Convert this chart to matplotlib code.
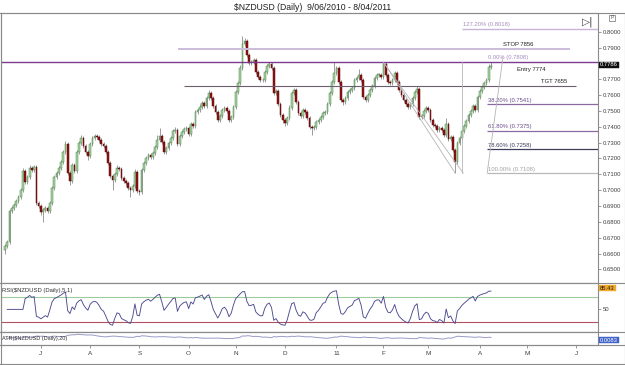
import numpy as np
import pandas as pd
import matplotlib
matplotlib.use('Agg')
import matplotlib.pyplot as plt
from matplotlib.patches import Rectangle
from matplotlib.lines import Line2D

plt.rcParams['font.family'] = ['Liberation Sans', 'DejaVu Sans']

# ---------------- data ----------------
title = "$NZDUSD (Daily)  9/06/2010 - 8/04/2011"
start_date = "2010-06-09"
axis_end_date = "2011-06-30"
first_open = 0.6622

closes = [
    0.6648, 0.6673, 0.6868, 0.6887, 0.6906, 0.6932, 0.6957, 0.7001, 0.7121, 0.7051,
    0.7083, 0.7140, 0.7127, 0.7146, 0.6919, 0.6900, 0.6862, 0.6875, 0.6887, 0.6868,
    0.6919, 0.7014, 0.7083, 0.7108, 0.7140, 0.7178, 0.7241, 0.7291, 0.7108, 0.7058,
    0.7159, 0.7121, 0.7241, 0.7298, 0.7329, 0.7279, 0.7241, 0.7215, 0.7291, 0.7329,
    0.7342, 0.7335, 0.7316, 0.7291, 0.7279, 0.7241, 0.7171, 0.7089, 0.7064, 0.7102,
    0.7140, 0.7133, 0.7077, 0.7058, 0.7045, 0.7014, 0.7001, 0.7026, 0.7115, 0.6995,
    0.6988, 0.7127, 0.7171, 0.7203, 0.7222, 0.7209, 0.7234, 0.7272, 0.7316, 0.7342,
    0.7304, 0.7241, 0.7266, 0.7298, 0.7329, 0.7373, 0.7380, 0.7291, 0.7342, 0.7367,
    0.7386, 0.7392, 0.7354, 0.7417, 0.7405, 0.7493, 0.7506, 0.7525, 0.7550, 0.7531,
    0.7581, 0.7613, 0.7581, 0.7531, 0.7493, 0.7443, 0.7468, 0.7506, 0.7518, 0.7499,
    0.7443, 0.7462, 0.7525, 0.7619, 0.7676, 0.7771, 0.7922, 0.7941, 0.7853, 0.7802,
    0.7809, 0.7821, 0.7746, 0.7714, 0.7695, 0.7695, 0.7746, 0.7783, 0.7796, 0.7771,
    0.7613, 0.7626, 0.7544, 0.7474, 0.7443, 0.7424, 0.7455, 0.7518, 0.7613, 0.7632,
    0.7556, 0.7487, 0.7468, 0.7506, 0.7493, 0.7455, 0.7398, 0.7392, 0.7398, 0.7430,
    0.7443, 0.7462, 0.7487, 0.7493, 0.7544, 0.7613, 0.7682, 0.7739, 0.7771, 0.7682,
    0.7569, 0.7556, 0.7581, 0.7619, 0.7632, 0.7645, 0.7695, 0.7708, 0.7727, 0.7695,
    0.7588, 0.7569, 0.7600, 0.7632, 0.7657, 0.7708, 0.7727, 0.7727, 0.7714, 0.7796,
    0.7727, 0.7682, 0.7676, 0.7695, 0.7739, 0.7682, 0.7632, 0.7600, 0.7569, 0.7544,
    0.7525, 0.7544, 0.7581, 0.7619, 0.7638, 0.7462, 0.7468, 0.7499, 0.7518, 0.7506,
    0.7443, 0.7411, 0.7405, 0.7380, 0.7392, 0.7380, 0.7348, 0.7417, 0.7323, 0.7335,
    0.7253, 0.7178, 0.7298, 0.7329, 0.7373, 0.7405, 0.7436, 0.7474, 0.7499, 0.7531,
    0.7506, 0.7588, 0.7626, 0.7651, 0.7676, 0.7695, 0.7777, 0.7786,
]

wick_up_pips = [
    10, 12, 15, 10, 12, 14, 12, 15, 18, 12, 10, 20, 15, 12, 10, 12, 10, 14, 12, 15,
    12, 15, 10, 14, 12, 15, 12, 20, 10, 12, 15, 12, 14, 12, 18, 10, 12, 12, 15, 14,
    12, 15, 10, 12, 14, 10, 12, 10, 12, 14, 18, 12, 10, 12, 10, 14, 12, 15, 20, 10,
    12, 14, 12, 15, 10, 12, 14, 15, 30, 50, 12, 10, 14, 12, 15, 12, 18, 10, 12, 14,
    15, 12, 10, 14, 12, 15, 12, 18, 15, 12, 14, 20, 10, 12, 10, 12, 14, 10, 12, 15,
    10, 12, 14, 12, 15, 18, 50, 20, 12, 14, 12, 15, 10, 12, 14, 12, 15, 12, 14, 10,
    15, 12, 10, 12, 14, 12, 15, 20, 12, 14, 10, 12, 14, 12, 15, 10, 12, 14, 12, 15,
    12, 14, 12, 15, 12, 14, 12, 70, 15, 10, 12, 14, 12, 15, 12, 14, 12, 15, 35, 10,
    12, 14, 12, 15, 12, 14, 12, 15, 12, 12, 10, 14, 12, 15, 12, 10, 12, 14, 12, 15,
    12, 14, 12, 15, 19, 10, 12, 14, 12, 15, 10, 12, 14, 12, 15, 12, 14, 38, 10, 12,
    12, 14, 15, 12, 14, 12, 15, 12, 14, 12, 15, 12, 14, 12, 15, 12, 20, 22,
]

wick_dn_pips = [
    25, 12, 10, 14, 12, 10, 15, 12, 10, 14, 12, 15, 10, 12, 12, 14, 20, 60, 12, 15,
    10, 12, 14, 10, 12, 10, 14, 12, 12, 26, 10, 14, 12, 10, 12, 14, 12, 25, 10, 12,
    14, 10, 12, 15, 12, 14, 12, 15, 63, 10, 12, 14, 12, 15, 20, 12, 44, 10, 12, 15,
    20, 10, 12, 14, 10, 12, 14, 10, 12, 14, 10, 15, 12, 10, 12, 14, 10, 12, 14, 10,
    12, 14, 12, 10, 15, 12, 10, 14, 12, 10, 12, 14, 10, 12, 14, 15, 12, 10, 14, 12,
    15, 12, 10, 14, 12, 10, 12, 14, 12, 15, 10, 12, 14, 12, 15, 10, 12, 14, 12, 10,
    12, 14, 12, 15, 20, 18, 12, 10, 12, 14, 12, 15, 12, 14, 10, 12, 15, 44, 12, 10,
    12, 14, 10, 12, 14, 10, 12, 10, 12, 14, 15, 20, 12, 10, 14, 12, 10, 12, 14, 12,
    15, 12, 10, 14, 12, 10, 12, 14, 12, 10, 12, 14, 15, 12, 10, 14, 12, 15, 12, 14,
    15, 12, 10, 14, 12, 15, 12, 10, 14, 12, 15, 14, 12, 15, 12, 14, 15, 12, 14, 12,
    15, 70, 12, 14, 10, 12, 14, 10, 12, 14, 10, 12, 14, 12, 10, 12, 14, 12,
]

price_ticks = [0.65, 0.66, 0.67, 0.68, 0.69, 0.70, 0.71, 0.72, 0.73, 0.74,
               0.75, 0.76, 0.77, 0.78, 0.79, 0.80]

fib_labels = ["127.20% (0.8018)", "0.00% (0.7808)", "38.20% (0.7541)",
              "61.80% (0.7375)", "78.60% (0.7258)", "100.00% (0.7108)"]
fib_values = [0.8018, 0.7808, 0.7541, 0.7375, 0.7258, 0.7108]

stop_label, stop_value = "STOP 7856", 0.7889
tgt_label, tgt_value = "TGT 7655", 0.7657
entry_label, entry_value = "Entry 7774", 0.7760
last_price = 0.7786
last_price_label = "0.7786"
rsi_label = "RSI($NZDUSD (Daily),5,1)"
rsi_last_label = "85.43"
rsi_period = 5
rsi_levels = [80, 20]
atr_label = "ATR($NZDUSD (Daily),20)"
atr_last_label = "0.0083"
atr_period = 20

# ---------------- derived ----------------
n = len(closes)
idx = np.arange(n)
c = np.array(closes)
o = np.r_[first_open, c[:-1]]
hi = np.maximum(o, c) + np.array(wick_up_pips[:n]) / 10000.0
lo = np.minimum(o, c) - np.array(wick_dn_pips[:n]) / 10000.0

cs = pd.Series(c)
d = cs.diff()
gain = d.clip(lower=0)
loss = (-d).clip(lower=0)
ag = gain.ewm(alpha=1.0 / rsi_period, adjust=False).mean()
al = loss.ewm(alpha=1.0 / rsi_period, adjust=False).mean()
rsi = 100 - 100 / (1 + ag / al.replace(0, np.nan))
rsi = rsi.fillna(50)

prev_c = np.r_[o[0], c[:-1]]
tr = np.maximum(hi - lo, np.maximum(np.abs(hi - prev_c), np.abs(lo - prev_c)))
atr = pd.Series(tr).ewm(alpha=1.0 / atr_period, adjust=False).mean().values

full_days = pd.bdate_range(start_date, axis_end_date)
month_pos, month_lab = [], []
for i in range(1, len(full_days)):
    if full_days[i].month != full_days[i - 1].month:
        month_pos.append(i)
        m = full_days[i]
        month_lab.append("11" if m.month == 1 else m.strftime("%b")[0])

# ---------------- layout ----------------
W, H = 625, 365
fig = plt.figure(figsize=(W / 100, H / 100), dpi=100)
fig.patch.set_facecolor('white')

def fx(px):
    return px / W

def fy(py):
    return 1 - py / H

L, R = 1, 598
ax = fig.add_axes([fx(L), fy(283), fx(R - L), (283 - 13) / H])
axr = fig.add_axes([fx(L), fy(332), fx(R - L), (332 - 283) / H])
axa = fig.add_axes([fx(L), fy(345), fx(R - L), (345 - 332) / H])

xlim = (-1.8, 264.8)
frame_col = '#8a8a8a'
for a in (ax, axr, axa):
    a.set_xlim(*xlim)
    a.set_facecolor('white')
    for s in a.spines.values():
        s.set_color(frame_col)
        s.set_linewidth(0.8)
    a.tick_params(axis='x', bottom=False, labelbottom=False)

# ---------------- candles ----------------
up = c >= o
wick_col = '#8c8c8c'
ax.vlines(idx, lo, hi, color=wick_col, lw=0.6, zorder=2)
body_h = np.maximum(np.abs(c - o), 0.0003)
ax.bar(idx[up], body_h[up], bottom=np.minimum(o, c)[up], width=0.75,
       color='#a9d3a3', edgecolor='#4a864a', linewidth=0.35, zorder=3)
ax.bar(idx[~up], body_h[~up], bottom=np.minimum(o, c)[~up], width=0.75,
       color='#8e1414', edgecolor='#5c0808', linewidth=0.35, zorder=3)

ax.set_ylim(0.6414, 0.8118)
ax.yaxis.tick_right()
ax.set_yticks(price_ticks)
# the last-price box covers the tick label nearest to it
ax.set_yticklabels(["" if abs(v - last_price) < 0.005 else f"{v:.4f}" for v in price_ticks])
ax.tick_params(axis='y', labelsize=4.3, labelcolor='#404040', length=2.5,
               width=0.5, color='#707070', pad=1)

# ---------------- annotation lines ----------------
xr = xlim[1]
ax.hlines(fib_values[1], xlim[0], xr, color='#7b3b8e', lw=1.0, zorder=4)
ax.hlines(stop_value, 77.1, 252.3, color='#cbbdd9', lw=1.4, zorder=4)
ax.hlines(tgt_value, 79.8, 255.0, color='#6e5d6e', lw=0.8, zorder=4)
ax.hlines(fib_values[0], 204.1, xr, color='#c9b3d8', lw=1.0, zorder=4)
fib_cols = ['#9a86b0', '#b9a6cc', '#8a6aa0', '#8a6aa0', '#403c5c', '#b8b8b8']
for k in (2, 3, 4, 5):
    ax.hlines(fib_values[k], 215.3, xr, color=fib_cols[k], lw=0.9, zorder=4)

gray_line = '#b5b5b5'
ax.plot([204.1, 204.1], [fib_values[5], fib_values[1]], color=gray_line, lw=0.6, zorder=4)
ax.plot([215.3, 222.4], [fib_values[5], 0.7842], color=gray_line, lw=0.6, zorder=4)
ax.plot([168.9, 204.6], [fib_values[1], fib_values[5]], color=gray_line, lw=0.6, zorder=4)
ax.plot([169.6, 201.0], [0.7796, fib_values[5]], color=gray_line, lw=0.6, zorder=4)

# labels
fs = 4.2
ax.text(204.3, fib_values[0] + 0.0012, fib_labels[0], fontsize=fs, color='#a58cc0', va='bottom')
ax.text(215.5, fib_values[1] + 0.0012, fib_labels[1], fontsize=fs, color='#a58cc0', va='bottom')
for k, col in zip((2, 3, 4), ('#6a4a8a', '#6a4a8a', '#3a3a60')):
    ax.text(215.5, fib_values[k] + 0.0010, fib_labels[k], fontsize=fs, color=col, va='bottom')
ax.text(215.5, fib_values[5] + 0.0008, fib_labels[5], fontsize=fs, color='#a0a0a0', va='bottom')
ax.text(222.2, stop_value + 0.0012, stop_label, fontsize=fs, color='#202020', va='bottom')
ax.text(228.7, entry_value, entry_label, fontsize=fs, color='#202020', va='center')
ax.text(239.5, tgt_value + 0.0010, tgt_label, fontsize=fs, color='#202020', va='bottom')

# ---------------- RSI ----------------
axr.plot(idx[1:], rsi.values[1:], color='#4b4b8f', lw=0.65, zorder=3)
axr.axhline(rsi_levels[0], color='#9ccc9c', lw=0.8)
axr.axhline(rsi_levels[1], color='#b05060', lw=0.8)
axr.set_ylim(-4, 113)
axr.yaxis.tick_right()
axr.set_yticks([50])
axr.set_yticklabels(['50'])
axr.tick_params(axis='y', labelsize=4.3, labelcolor='#404040', length=2.5,
                width=0.5, color='#707070', pad=1)
axr.text(0.002, 0.90, rsi_label, transform=axr.transAxes, fontsize=4.2,
         color='#303030', va='top', ha='left')

# ---------------- ATR ----------------
a_min, a_max = atr[5:].min(), atr[5:].max()
rng = a_max - a_min
axa.plot(idx[1:], atr[1:], color='#9a9ac8', lw=0.7)
axa.set_ylim(a_min - rng * 1.3, a_max + rng * 0.5)
axa.set_yticks([])
axa.text(0.002, 0.5, atr_label, transform=axa.transAxes, fontsize=4.0,
         color='#303030', va='center', ha='left')
axa.set_xticks(month_pos)
axa.set_xticklabels(month_lab)
axa.tick_params(axis='x', bottom=True, labelbottom=True, labelsize=4.6,
                labelcolor='#404040', length=2.5, width=0.5, color='#707070', pad=1.5)

# ---------------- frame, title, value boxes ----------------
line_kw = dict(color=frame_col, lw=0.8, transform=fig.transFigure)
for py in (13, 283, 332, 345):
    fig.add_artist(Line2D([0, 1], [fy(py), fy(py)], **line_kw))
fig.add_artist(Line2D([0, 1], [fy(364), fy(364)], **line_kw))
fig.add_artist(Line2D([fx(0.5), fx(0.5)], [fy(13), fy(364)], **line_kw))
fig.add_artist(Line2D([fx(624.5), fx(624.5)], [fy(13), fy(364)], **line_kw))

fig.text(0.5, fy(7), title, ha='center', va='center', fontsize=6.2, color='#202020')

def value_box(py, text, face, tcol):
    fig.text(fx(600), fy(py), text, ha='left', va='center', fontsize=4.2, color=tcol,
             bbox=dict(boxstyle='square,pad=0.15', fc=face, ec=face, lw=0.3))

value_box(65, last_price_label, '#101010', 'white')
value_box(288, rsi_last_label, '#f0a830', '#302000')
value_box(340, atr_last_label, '#3f63c8', 'white')

fig.text(fx(582), fy(22), "\u25B7|", ha='left', va='center', fontsize=7.5,
         color='#404040', family=['DejaVu Sans'])
fig.add_artist(Rectangle((fx(609), fy(21)), fx(6), 6 / H, transform=fig.transFigure,
                         fill=False, ec='#707070', lw=0.5))
fig.text(fx(612), fy(17.8), "P", ha='center', va='center', fontsize=3.5, color='#505050')

fig.savefig('out.png', dpi=100, facecolor='white')
